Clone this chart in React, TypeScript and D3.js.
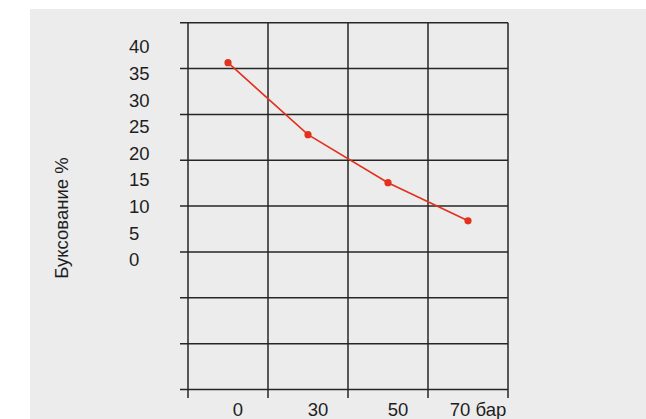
import React from "react";
import * as d3 from "d3";

const categories = ["0", "30", "50", "70 бар"];
const slipValues = [37, 23.5, 14.5, 7.35];
const yTickLabels = [40, 35, 30, 25, 20, 15, 10, 5, 0];
const gridRowCount = 8;

const W = 646;
const H = 419;
const FONT = "'Liberation Sans', Arial, Helvetica, sans-serif";
const FS = 18.5;

export default function App() {
  const x = d3.scaleBand<string>().domain(categories).range([188, 508]).padding(0);
  const gridY = d3.scaleLinear().domain([0, gridRowCount]).range([389.5, 22.7]);
  const y = d3.scaleLinear().domain([0, 40]).range([260, 46.7]);

  const gridRows = d3.range(gridRowCount + 1);
  const xEdges = [...categories.map((c) => x(c) as number), x.range()[1]];

  const pts: [number, number][] = categories.map((c, i) => [
    (x(c) as number) + x.bandwidth() / 2,
    y(slipValues[i]),
  ]);
  const line = d3.line<[number, number]>().x((d) => d[0]).y((d) => d[1]);

  const stroke = "#262626";
  const red = "#e2311d";

  return (
    <svg
      width={W}
      height={H}
      style={{ position: "absolute", left: 0, top: 0, display: "block" }}
    >
      <rect x={30} y={9} width={W - 30} height={H - 9} fill="#ececec" />
      {gridRows.map((r) => (
        <line
          key={"h" + r}
          x1={180}
          x2={508}
          y1={gridY(r)}
          y2={gridY(r)}
          stroke={stroke}
          strokeWidth={1.5}
        />
      ))}
      {xEdges.map((ex, i) => (
        <line
          key={"v" + i}
          x1={ex}
          x2={ex}
          y1={gridY(gridRowCount)}
          y2={398}
          stroke={stroke}
          strokeWidth={1.5}
        />
      ))}
      {yTickLabels.map((v) => (
        <text
          key={"yl" + v}
          x={129}
          y={y(v)}
          dy="0.35em"
          fontFamily={FONT}
          fontSize={FS}
          fill="#1e1e1e"
        >
          {v}
        </text>
      ))}
      {categories.map((c) => (
        <text
          key={"xl" + c}
          x={(x(c) as number) + x.bandwidth() / 2 + 10}
          y={416}
          textAnchor="middle"
          fontFamily={FONT}
          fontSize={FS}
          fill="#1e1e1e"
        >
          {c}
        </text>
      ))}
      <text
        transform={`translate(68,218) rotate(-90)`}
        textAnchor="middle"
        fontFamily={FONT}
        fontSize={FS}
        fill="#1e1e1e"
      >
        Буксование %
      </text>
      <path d={line(pts) || ""} fill="none" stroke={red} strokeWidth={1.6} />
      {pts.map((p, i) => (
        <circle key={"p" + i} cx={p[0]} cy={p[1]} r={3.6} fill={red} />
      ))}
    </svg>
  );
}
